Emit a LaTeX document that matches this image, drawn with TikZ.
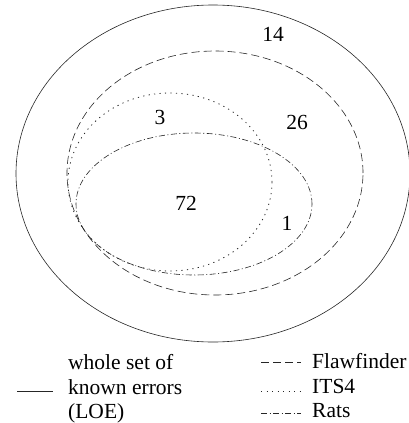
\documentclass[tikz,border=0pt]{standalone}
\usepackage{fontspec}
\setmainfont{Liberation Serif}
\begin{document}
\begin{tikzpicture}[x=1pt,y=-1pt,
  every node/.style={inner sep=0pt, font=\fontsize{21.5}{24}\selectfont},
  setline/.style={line width=0.6pt, draw=black!85},
  loe/.style={setline},
  flaw/.style={setline, dash pattern=on 8pt off 4pt},
  its/.style={setline, line width=0.8pt, dash pattern=on 1.2pt off 4.3pt},
  rats/.style={setline, dash pattern=on 6pt off 2.5pt on 1pt off 2.5pt},
  num/.style={anchor=center},
  legtext/.style={anchor=base west}]
\useasboundingbox (0,0) rectangle (408,423);
% sets
\draw[loe]  (213,173.5) ellipse [x radius=197pt, y radius=168.5pt];
\draw[flaw] (215,173) ellipse [x radius=148pt, y radius=122pt];
\draw[its]  (170,182) ellipse [x radius=102pt, y radius=89pt];
\draw[rats] (194,204) ellipse [x radius=118pt, y radius=71pt];
% counts
\node[num] (n14) at (273,34.5) {14};
\node[num] (n3)  at (160,117) {3};
\node[num] (n26) at (297,122) {26};
\node[num] (n72) at (186,203) {72};
\node[num] (n1)  at (287,223) {1};
% legend left
\node[legtext] (l1) at (68,369.5) {whole set of};
\node[legtext] (l2) at (68,394) {known errors};
\node[legtext] (l3) at (68,418) {(LOE)};
\coordinate (a1) at (17,391);
\coordinate (a2) at (53,391);
\draw[loe] (a1) -- (a2);
% legend right
\node[legtext] (r1) at (312,368) {Flawfinder};
\node[legtext] (r2) at (312,393) {ITS4};
\node[legtext] (r3) at (312,417) {Rats};
\coordinate (b1) at (261,362);
\coordinate (b2) at (301,362);
\coordinate (c1) at (261,391);
\coordinate (c2) at (301,391);
\coordinate (d1) at (261,413);
\coordinate (d2) at (301,413);
\draw[flaw] (b1) -- (b2);
\draw[its]  (c1) -- (c2);
\draw[rats] (d1) -- (d2);
\end{tikzpicture}
\end{document}
